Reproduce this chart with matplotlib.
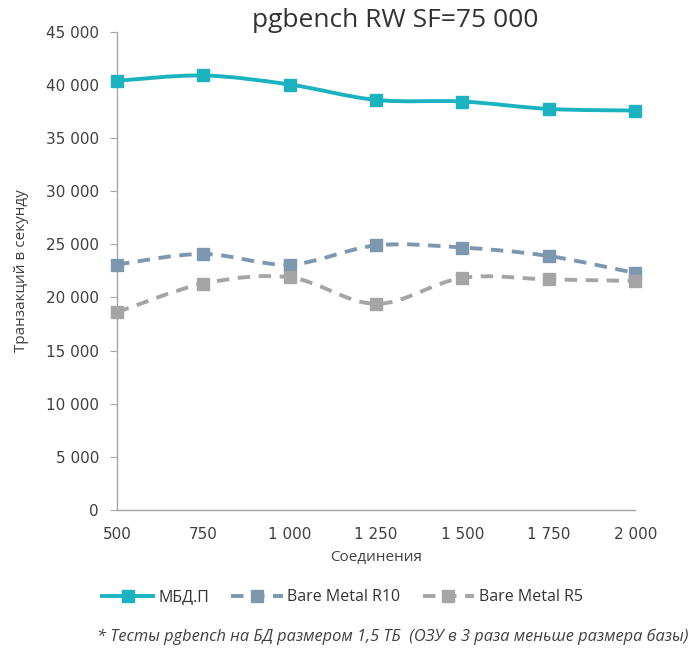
import numpy as np
import matplotlib
matplotlib.use('Agg')
import matplotlib.pyplot as plt
from matplotlib.path import Path
from matplotlib.patches import PathPatch
from matplotlib.ticker import FuncFormatter

connections = [500, 750, 1000, 1250, 1500, 1750, 2000]
mbdp = [40400, 40900, 40050, 38600, 38450, 37750, 37600]
bare_r10 = [23100, 24100, 23100, 24900, 24700, 23900, 22300]
bare_r5 = [18600, 21300, 21900, 19400, 21850, 21700, 21550]


def smooth_path(xs, ys):
    # Catmull-Rom as cubic Bezier, like Excel's smoothed line
    pts = np.column_stack([xs, ys]).astype(float)
    verts = [pts[0]]
    codes = [Path.MOVETO]
    n = len(pts)
    for i in range(n - 1):
        p0 = pts[i - 1] if i > 0 else pts[i]
        p1, p2 = pts[i], pts[i + 1]
        p3 = pts[i + 2] if i + 2 < n else pts[i + 1]
        c1 = p1 + (p2 - p0) / 6
        c2 = p2 - (p3 - p1) / 6
        verts += [c1, c2, p2]
        codes += [Path.CURVE4] * 3
    return Path(verts, codes)


fig = plt.figure(figsize=(6.92, 6.52), dpi=100)
ax = fig.add_axes([0.169, 0.218, 0.749, 0.733])

series = [
    (mbdp, '#1BB3BF', '-', 'МБД.П'),
    (bare_r10, '#7D97AF', (0, (3.2, 2.2)), 'Bare Metal R10'),
    (bare_r5, '#A5A5A5', (0, (3.2, 2.2)), 'Bare Metal R5'),
]
handles = []
for ys, col, ls, lab in series:
    ax.add_patch(PathPatch(smooth_path(connections, ys), fill=False,
                           edgecolor=col, lw=2.8, ls=ls, clip_on=False))
    ax.plot(connections, ys, ls='none', marker='s', ms=9, color=col, clip_on=False, zorder=3)
    h, = ax.plot([], [], color=col, lw=2.8, ls=ls, marker='s', ms=8)
    handles.append(h)

ax.set_xlim(500, 2000)
ax.set_ylim(0, 45000)
ax.set_xticks(connections)
ax.set_yticks(range(0, 45001, 5000))
sp = lambda v, p: f'{int(v):,}'.replace(',', ' ')
ax.xaxis.set_major_formatter(FuncFormatter(sp))
ax.yaxis.set_major_formatter(FuncFormatter(sp))

for s in ['top', 'right']:
    ax.spines[s].set_visible(False)
for s in ['left', 'bottom']:
    ax.spines[s].set_color('#A6A6A6')
    ax.spines[s].set_linewidth(1.0)
ax.tick_params(axis='y', length=5, color='#A6A6A6', labelsize=11, labelcolor='#404040', pad=8)
ax.tick_params(axis='x', length=0, labelsize=11, labelcolor='#404040', pad=12)
for t in ax.get_xticklabels() + ax.get_yticklabels():
    t.set_family('Liberation Sans Narrow')

ax.set_xlabel('Соединения', fontsize=11, color='#404040', labelpad=6, family='Open Sans')
ax.set_ylabel('Транзакций в секунду', fontsize=11, color='#404040', labelpad=12, family='Open Sans')

fig.text(0.571, 0.968, 'pgbench RW SF=75 000', ha='center', va='center',
         fontsize=19, color='#333333', family='Open Sans')

fig.legend(handles=handles, labels=[s[3] for s in series], loc='center',
           bbox_to_anchor=(0.495, 0.084), ncol=3, frameon=False,
           handlelength=3.2, columnspacing=1.4, handletextpad=0.3,
           prop={'family': 'Open Sans', 'size': 11.5})
for t in fig.legends[0].get_texts():
    t.set_color('#333333')

fig.text(0.995, 0.023, '* Тесты pgbench на БД размером 1,5 ТБ  (ОЗУ в 3 раза меньше размера базы)',
         ha='right', va='center', fontsize=11.8, style='italic', color='#404040', family='Open Sans')

fig.savefig('out.png', dpi=100)
